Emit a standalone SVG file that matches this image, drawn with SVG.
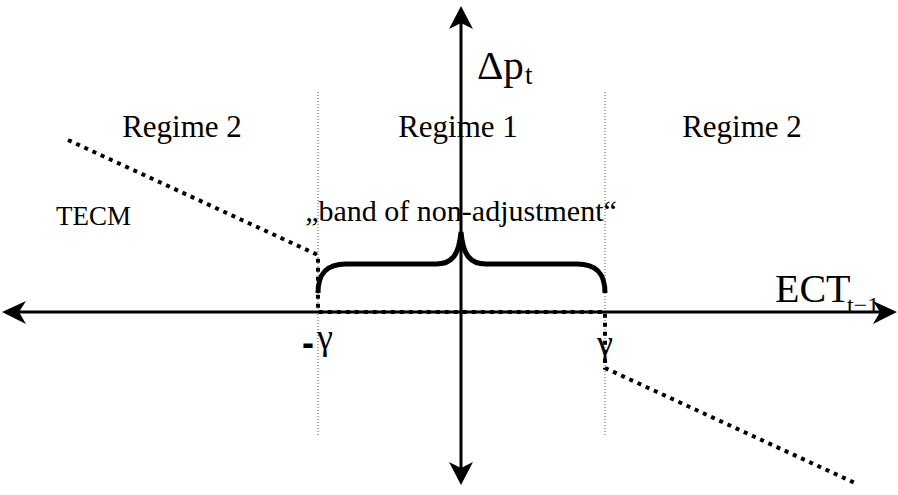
<svg xmlns="http://www.w3.org/2000/svg" width="898" height="495" viewBox="0 0 898 495">
<style>
.t{font-family:"Liberation Serif","Times New Roman",serif;fill:#000}
.s{font-family:"Liberation Sans",Arial,sans-serif;fill:#000}
.ax{stroke:#000;stroke-width:3;fill:none}
.dot{stroke:#000;stroke-width:4;fill:none;stroke-dasharray:4 5}
.guide{stroke:#555;stroke-width:1;fill:none;stroke-dasharray:1 2}
</style>
<rect width="898" height="495" fill="#fff"/>
<g id="guides">
<line class="guide" x1="318" y1="92" x2="318" y2="436"/>
<line class="guide" x1="605" y1="92" x2="605" y2="436"/>
</g>
<g id="axes">
<line class="ax" x1="18" y1="312" x2="884" y2="312"/>
<line class="ax" x1="461" y1="20" x2="461" y2="470"/>
<path d="M2,312 L26,301 L19,312 L26,324 Z" fill="#000"/>
<path d="M897,312 L873,301 L880,312 L873,324 Z" fill="#000"/>
<path d="M461,6 L449,29 L461,23 L473,29 Z" fill="#000"/>
<path d="M461,485 L449,462 L461,468 L473,462 Z" fill="#000"/>
</g>
<g id="connectors">
<path class="dot" d="M68,140 L318,255 L318,312 L605,312 L605,368 L855,483"/>
<path d="M318,293 C318,274 326,264 346,264 L436,264 C452,264 459,255 461,232 C463,255 470,264 486,264 L577,264 C597,264 605,274 605,293" stroke="#000" stroke-width="5" fill="none"/>
</g>
<g id="labels">
<text class="t" x="477" y="79" font-size="41">Δp</text>
<text class="t" x="525" y="84" font-size="27">t</text>
<text class="t" x="775" y="302" font-size="40">ECT</text>
<text class="t" x="847" y="313" font-size="24">t−1</text>
<text class="t" x="182" y="137" font-size="31" text-anchor="middle">Regime 2</text>
<text class="t" x="458" y="137" font-size="31" text-anchor="middle">Regime 1</text>
<text class="t" x="742" y="137" font-size="31" text-anchor="middle">Regime 2</text>
<text class="t" x="56" y="225" font-size="27">TECM</text>
<text class="t" x="461" y="221" font-size="30" text-anchor="middle">„band of non-adjustment“</text>
<text><tspan class="s" font-weight="bold" font-size="36" x="302" y="355">-</tspan><tspan class="t" font-size="36" x="317" y="349">γ</tspan></text>
<text class="t" x="597" y="355" font-size="36">γ</text>
</g>
</svg>
